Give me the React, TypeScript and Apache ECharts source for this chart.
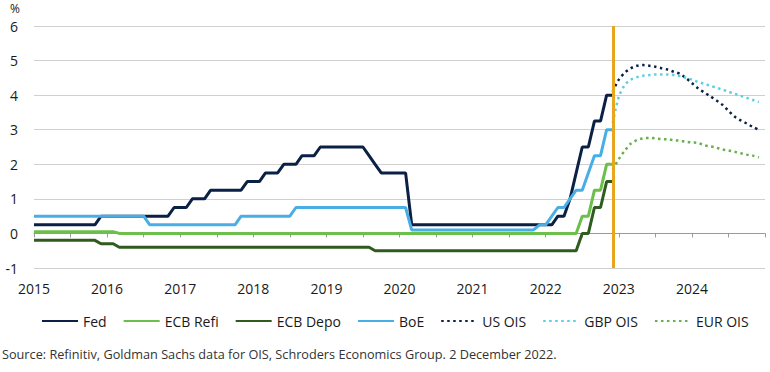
import React, { useEffect, useRef } from "react";
import * as echarts from "echarts";

// Policy rates (monthly change points, %), "YYYY-MM"
const fed: [string, number][] = [
  ["2015-01", 0.25], ["2015-11", 0.25], ["2015-12", 0.5], ["2016-11", 0.5], ["2016-12", 0.75],
  ["2017-02", 0.75], ["2017-03", 1.0], ["2017-05", 1.0], ["2017-06", 1.25], ["2017-11", 1.25],
  ["2017-12", 1.5], ["2018-02", 1.5], ["2018-03", 1.75], ["2018-05", 1.75], ["2018-06", 2.0],
  ["2018-08", 2.0], ["2018-09", 2.25], ["2018-11", 2.25], ["2018-12", 2.5], ["2019-07", 2.5],
  ["2019-08", 2.25], ["2019-09", 2.0], ["2019-10", 1.75], ["2020-02", 1.75], ["2020-03", 0.25],
  ["2022-02", 0.25], ["2022-03", 0.5], ["2022-04", 0.5], ["2022-05", 1.0], ["2022-06", 1.75],
  ["2022-07", 2.5], ["2022-08", 2.5], ["2022-09", 3.25], ["2022-10", 3.25], ["2022-11", 4.0],
  ["2022-12", 4.0],
];
const ecbRefi: [string, number][] = [
  ["2015-01", 0.05], ["2016-02", 0.05], ["2016-03", 0], ["2022-06", 0], ["2022-07", 0.5],
  ["2022-08", 0.5], ["2022-09", 1.25], ["2022-10", 1.25], ["2022-11", 2.0], ["2022-12", 2.0],
];
const ecbDepo: [string, number][] = [
  ["2015-01", -0.2], ["2015-11", -0.2], ["2015-12", -0.3], ["2016-02", -0.3], ["2016-03", -0.4],
  ["2019-08", -0.4], ["2019-09", -0.5], ["2022-06", -0.5], ["2022-07", 0], ["2022-08", 0],
  ["2022-09", 0.75], ["2022-10", 0.75], ["2022-11", 1.5], ["2022-12", 1.5],
];
const boe: [string, number][] = [
  ["2015-01", 0.5], ["2016-07", 0.5], ["2016-08", 0.25], ["2017-10", 0.25], ["2017-11", 0.5],
  ["2018-07", 0.5], ["2018-08", 0.75], ["2020-02", 0.75], ["2020-03", 0.1], ["2021-11", 0.1],
  ["2021-12", 0.25], ["2022-01", 0.25], ["2022-02", 0.5], ["2022-03", 0.75], ["2022-04", 0.75],
  ["2022-05", 1.0], ["2022-06", 1.25], ["2022-07", 1.25], ["2022-08", 1.75], ["2022-09", 2.25],
  ["2022-10", 2.25], ["2022-11", 3.0], ["2022-12", 3.0],
];

// OIS-implied paths, monthly from Dec 2022 to Dec 2024
const oisMonths: string[] = [
  "2022-12", "2023-01", "2023-02", "2023-03", "2023-04", "2023-05", "2023-06", "2023-07",
  "2023-08", "2023-09", "2023-10", "2023-11", "2023-12", "2024-01", "2024-02", "2024-03",
  "2024-04", "2024-05", "2024-06", "2024-07", "2024-08", "2024-09", "2024-10", "2024-11", "2024-12",
];
const usOis: number[] = [
  4.1, 4.45, 4.65, 4.78, 4.85, 4.87, 4.85, 4.82, 4.78, 4.74, 4.68, 4.62, 4.5,
  4.35, 4.2, 4.08, 3.97, 3.85, 3.72, 3.55, 3.38, 3.27, 3.18, 3.08, 3.0,
];
const gbpOis: number[] = [
  3.2, 3.95, 4.3, 4.45, 4.52, 4.56, 4.58, 4.6, 4.6, 4.6, 4.58, 4.55, 4.5,
  4.45, 4.38, 4.33, 4.27, 4.22, 4.16, 4.1, 4.04, 3.98, 3.92, 3.86, 3.8,
];
const eurOis: number[] = [
  1.85, 2.15, 2.4, 2.6, 2.7, 2.75, 2.76, 2.75, 2.73, 2.72, 2.7, 2.68, 2.65,
  2.63, 2.62, 2.55, 2.52, 2.48, 2.43, 2.4, 2.36, 2.32, 2.28, 2.25, 2.2,
];

const yearTicks: number[] = [2015, 2016, 2017, 2018, 2019, 2020, 2021, 2022, 2023, 2024];
const dataDate = 2022 + 335 / 365; // 2 December 2022

const FONT = "'Open Sans', 'Noto Sans', sans-serif";

const toX = (s: string): number => {
  const [y, m] = s.split("-").map(Number);
  return y + (m - 1) / 12;
};
const pts = (arr: [string, number][]) => arr.map(([d, v]) => [toX(d), v]);
const ois = (vals: number[]) => vals.map((v, i) => [toX(oisMonths[i]), v]);

export default function App() {
  const ref = useRef<HTMLDivElement>(null);
  useEffect(() => {
    document.body.style.margin = "0";
    if (!ref.current) return;
    const chart = echarts.init(ref.current, undefined, { renderer: "svg" });
    const solid = (name: string, color: string, data: number[][], extra: any = {}) => ({
      name,
      type: "line",
      data,
      symbol: "none",
      xAxisIndex: 0,
      lineStyle: { color, width: 3, type: "solid" },
      itemStyle: { color },
      ...extra,
    });
    const dotted = (name: string, color: string, data: number[][]) => ({
      name,
      type: "line",
      data,
      symbol: "none",
      smooth: 0.3,
      xAxisIndex: 0,
      lineStyle: { color, width: 2.5, type: [2.5, 3.5] },
      itemStyle: { color },
    });
    chart.setOption({
      animation: false,
      textStyle: { fontFamily: FONT },
      grid: { left: 34, right: 5, top: 26, bottom: 104, containLabel: false },
      legend: {
        left: 36,
        top: 309,
        itemWidth: 36,
        itemHeight: 12,
        itemGap: 16,
        itemStyle: { opacity: 0 },
        textStyle: { fontSize: 14, color: "#1a1a1a", fontFamily: FONT },
        data: ["Fed", "ECB Refi", "ECB Depo", "BoE", "US OIS", "GBP OIS", "EUR OIS"],
      },
      xAxis: [
        {
          type: "value",
          min: 2015,
          max: 2025,
          interval: 1,
          axisLine: { show: false, onZero: false },
          axisTick: { show: false },
          splitLine: { show: false },
          axisLabel: {
            margin: 13,
            fontSize: 14,
            color: "#1a1a1a",
            fontFamily: FONT,
            formatter: (v: number) => (yearTicks.includes(v) ? String(v) : ""),
          },
        },
        {
          type: "value",
          min: 2015,
          max: 2025,
          interval: 0.5,
          position: "bottom",
          axisLine: { show: true, onZero: true, onZeroAxisIndex: 0, lineStyle: { color: "#9a9a9a", width: 1 } },
          axisTick: { show: true, inside: false, length: 4, lineStyle: { color: "#9a9a9a" } },
          axisLabel: { show: false },
          splitLine: { show: false },
        },
      ],
      yAxis: {
        type: "value",
        min: -1,
        max: 6,
        interval: 1,
        axisLine: { show: false },
        axisTick: { show: false },
        axisLabel: { margin: 16, fontSize: 14, color: "#1a1a1a", fontFamily: FONT },
        splitLine: { lineStyle: { color: "#d0d0d0", width: 1 } },
      },
      graphic: [
        { type: "text", left: 10, top: 2, style: { text: "%", fontSize: 12, fill: "#1a1a1a", fontFamily: FONT } },
        {
          type: "text",
          left: 2,
          top: 347,
          style: {
            text: "Source: Refinitiv, Goldman Sachs data for OIS, Schroders Economics Group. 2 December 2022.",
            fontSize: 12.7,
            fill: "#333333",
            fontFamily: FONT,
          },
        },
      ],
      series: [
        solid("Fed", "#0b2045", pts(fed), {
          markLine: {
            silent: true,
            symbol: "none",
            label: { show: false },
            lineStyle: { color: "#e8a51e", width: 3, type: "solid" },
            data: [{ xAxis: dataDate }],
            z: 10,
          },
        }),
        solid("ECB Refi", "#6cbf4b", pts(ecbRefi)),
        solid("ECB Depo", "#2f5b1f", pts(ecbDepo)),
        solid("BoE", "#4aaee6", pts(boe)),
        dotted("US OIS", "#0b2045", ois(usOis)),
        dotted("GBP OIS", "#5ccfe3", ois(gbpOis)),
        dotted("EUR OIS", "#6aae4e", ois(eurOis)),
      ],
    });
    return () => chart.dispose();
  }, []);
  return <div ref={ref} style={{ width: 770, height: 372 }} />;
}
